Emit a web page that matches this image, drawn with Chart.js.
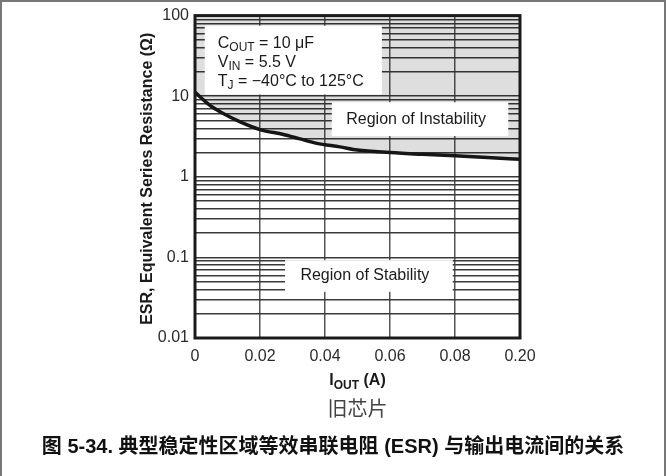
<!DOCTYPE html>
<html>
<head>
<meta charset="utf-8">
<script src="https://cdn.jsdelivr.net/npm/chart.js@4.4.1/dist/chart.umd.min.js"></script>
<style>
  html, body { margin: 0; padding: 0; background: #fff; overflow: hidden; }
  #wrap { position: relative; width: 666px; height: 476px; }
  #frame { position: absolute; left: 0; top: 0; width: 662px; height: 474px; border: 2px solid #777; border-bottom: none; }
  canvas { position: absolute; left: 0; top: 0; }
</style>
</head>
<body>
<div id="wrap">
  <canvas id="chart_esr" width="666" height="476"></canvas>
  <div id="frame"></div>
</div>
<script>
// ESR stability boundary (A, ohm)
var currentA = [0, 0.0046, 0.0087, 0.0139, 0.02, 0.0272, 0.0323, 0.0375, 0.0446, 0.05, 0.06, 0.07, 0.08, 0.09, 0.1];
var esrOhm = [11.2, 7.7, 6.1, 4.8, 3.85, 3.35, 2.95, 2.6, 2.35, 2.15, 2.0, 1.9, 1.82, 1.73, 1.65];

var xTickLabels = ['0', '0.02', '0.04', '0.06', '0.08', '0.20'];
var yDecades = [0.01, 0.1, 1, 10, 100];
var yTickLabels = ['0.01', '0.1', '1', '10', '100'];

var LATIN = '"Liberation Sans", Arial, sans-serif';
var CJK = '"Liberation Sans", Arial, "Noto Sans CJK SC", sans-serif';

// minor grid at 1..9 of every decade
var yGrid = [];
for (var d = 0; d < yDecades.length - 1; d++) {
	for (var m = 1; m < 10; m++) {
		yGrid.push(Number((m * yDecades[d]).toPrecision(2)));
	}
}
yGrid.push(yDecades[yDecades.length - 1]);

// text parts: [text, isSubscript]
function drawRich(ctx, parts, x, y, size, weight, align) {
	var subSize = Math.round(size * 0.72);
	var total = 0;
	parts.forEach(function (p) {
		ctx.font = weight + ' ' + (p[1] ? subSize : size) + 'px ' + LATIN;
		total += ctx.measureText(p[0]).width;
	});
	var cx = align === 'center' ? x - total / 2 : x;
	ctx.textAlign = 'left';
	ctx.textBaseline = 'middle';
	parts.forEach(function (p) {
		ctx.font = weight + ' ' + (p[1] ? subSize : size) + 'px ' + LATIN;
		ctx.fillText(p[0], cx, p[1] ? y + size * 0.27 : y);
		cx += ctx.measureText(p[0]).width;
	});
}

function boxPx(chart, b) {
	var x = chart.scales.x, y = chart.scales.y;
	var l = x.getPixelForValue(b[0]), r = x.getPixelForValue(b[1]);
	var t = y.getPixelForValue(b[2]), btm = y.getPixelForValue(b[3]);
	return { l: l, t: t, w: r - l, h: btm - t };
}

var notes = {
	id: 'notes',
	afterDatasetsDraw: function (chart) {
		var ctx = chart.ctx;
		ctx.save();
		ctx.fillStyle = '#fff';

		var p = boxPx(chart, [0.003, 0.0575, 75, 10.5]);
		ctx.fillRect(p.l, p.t, p.w, p.h);
		var ins = boxPx(chart, [0.0421, 0.0964, 8.4, 3.2]);
		ctx.fillRect(ins.l, ins.t, ins.w, ins.h);
		var st = boxPx(chart, [0.0277, 0.0793, 0.0925, 0.0374]);
		ctx.fillRect(st.l, st.t, st.w, st.h);

		ctx.fillStyle = '#1a1a1a';
		drawRich(ctx, [['C', false], ['OUT', true], [' = 10 \u03bcF', false]], p.l + 13, p.t + 18, 16, 'normal', 'left');
		drawRich(ctx, [['V', false], ['IN', true], [' = 5.5 V', false]], p.l + 13, p.t + 37, 16, 'normal', 'left');
		drawRich(ctx, [['T', false], ['J', true], [' = \u221240\u00b0C to 125\u00b0C', false]], p.l + 13, p.t + 56, 16, 'normal', 'left');

		drawRich(ctx, [['Region of Instability', false]], ins.l + ins.w / 2 - 4, ins.t + ins.h / 2, 16, 'normal', 'center');
		drawRich(ctx, [['Region of Stability', false]], st.l + st.w / 2 - 4, st.t + st.h / 2, 16, 'normal', 'center');
		ctx.restore();
	},
	afterDraw: function (chart) {
		var ctx = chart.ctx, a = chart.chartArea;
		ctx.save();
		ctx.strokeStyle = '#1a1a1a';
		ctx.lineWidth = 3;
		ctx.strokeRect(a.left, a.top, a.right - a.left, a.bottom - a.top);

		ctx.fillStyle = '#1a1a1a';
		var cx = (a.left + a.right) / 2;
		drawRich(ctx, [['I', false], ['OUT', true], [' (A)', false]], cx, 381, 16, 'bold', 'center');

		ctx.translate(148, (a.top + a.bottom) / 2 + 2);
		ctx.rotate(-Math.PI / 2);
		ctx.font = 'bold 16px ' + LATIN;
		ctx.textAlign = 'center';
		ctx.textBaseline = 'middle';
		ctx.fillText('ESR, Equivalent Series Resistance (\u03a9)', 0, 0);
		ctx.restore();

		ctx.save();
		ctx.textAlign = 'center';
		ctx.textBaseline = 'middle';
		ctx.fillStyle = '#444';
		ctx.font = '20px ' + CJK;
		ctx.fillText('旧芯片', cx, 410);
		ctx.fillStyle = '#111';
		ctx.font = 'bold 20px ' + CJK;
		ctx.fillText('图 5-34. 典型稳定性区域等效串联电阻 (ESR) 与输出电流间的关系', 333, 447);
		ctx.restore();
	}
};

var chart_esr = new Chart(
	document.getElementById('chart_esr'),
	{
		type: 'line',
		data: {
			datasets: [
				{
					label: 'ESR',
					data: currentA.map(function (v, i) { return { x: v, y: esrOhm[i] }; }),
					borderColor: '#161616',
					borderWidth: 3.5,
					backgroundColor: 'rgba(0,0,0,0.13)',
					fill: 'end',
					pointRadius: 0,
					cubicInterpolationMode: 'monotone'
				}
			]
		},
		options: {
			responsive: false,
			animation: false,
			devicePixelRatio: 1,
			layout: { padding: { left: 0, top: 15, right: 146, bottom: 0 } },
			plugins: { legend: { display: false }, tooltip: { enabled: false } },
			scales: {
				x: {
					type: 'linear',
					min: 0,
					max: 0.1,
					afterFit: function (s) { s.height = 138; },
					border: { display: false },
					grid: { color: '#555', lineWidth: 1.5, drawTicks: false },
					ticks: {
						stepSize: 0.02,
						padding: 9,
						autoSkip: false,
						maxRotation: 0,
						color: '#2a2a2a',
						font: { family: LATIN, size: 16 },
						callback: function (v, i) { return xTickLabels[i]; }
					}
				},
				y: {
					type: 'logarithmic',
					min: 0.01,
					max: 100,
					afterFit: function (s) { s.width = 195; },
					afterBuildTicks: function (s) {
						s.ticks = yGrid.map(function (v) { return { value: v }; });
					},
					border: { display: false },
					grid: { color: '#3a3a3a', lineWidth: 1.5, drawTicks: false },
					ticks: {
						padding: 6,
						autoSkip: false,
						color: '#2a2a2a',
						font: { family: LATIN, size: 16 },
						callback: function (v) {
							var i = yDecades.indexOf(v);
							return i >= 0 ? yTickLabels[i] : '';
						}
					}
				}
			}
		},
		plugins: [notes]
	}
);
</script>
</body>
</html>
